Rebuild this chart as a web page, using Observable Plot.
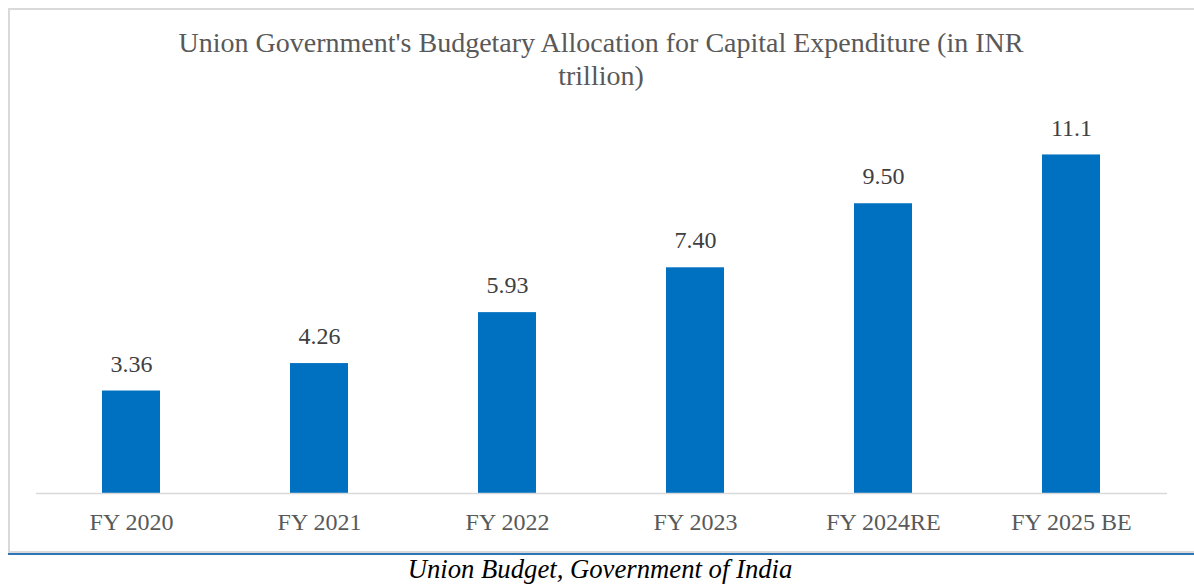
<!DOCTYPE html>
<html>
<head>
<meta charset="utf-8">
<script src="https://cdn.jsdelivr.net/npm/d3@7"></script>
<script src="https://cdn.jsdelivr.net/npm/@observablehq/plot@0.6"></script>
<style>
  html, body { margin: 0; padding: 0; background: #fff; }
  body { position: relative; width: 1194px; height: 584px; overflow: hidden; font-family: "Liberation Serif", serif; }
  #frame { position: absolute; left: 8px; top: 8px; width: 1186px; height: 545px; box-sizing: border-box;
           border-top: 2px solid #d9d9d9; border-left: 2px solid #d9d9d9; border-bottom: 2px solid #d9d9d9; }
  #blue { position: absolute; left: 8px; top: 553px; width: 1186px; height: 2px; background: #2e75b6; }
  #title { position: absolute; left: 8px; top: 26px; width: 1186px; text-align: center; font-size: 28px;
           line-height: 33px; color: #595959; }
  #chart { position: absolute; left: 8px; top: 100px; }
  #caption { position: absolute; left: 3px; top: 554px; width: 1194px; text-align: center; font-style: italic;
             font-size: 26.7px; line-height: 30px; color: #000; }
</style>
</head>
<body>
<div id="frame"></div>
<div id="blue"></div>
<div id="title">Union Government's Budgetary Allocation for Capital Expenditure (in INR<br>trillion)</div>
<div id="chart"></div>
<div id="caption">Union Budget, Government of India</div>
<script>
const categories = ["FY 2020", "FY 2021", "FY 2022", "FY 2023", "FY 2024RE", "FY 2025 BE"];
const values = [3.36, 4.26, 5.93, 7.40, 9.50, 11.1];
const valueLabels = ["3.36", "4.26", "5.93", "7.40", "9.50", "11.1"];

const data = categories.map((c, i) => ({category: c, value: values[i], label: valueLabels[i]}));

const chart = Plot.plot({
  width: 1186,
  height: 445,
  marginLeft: 28,
  marginRight: 27,
  marginTop: 27,
  marginBottom: 52,
  style: {fontFamily: "Liberation Serif, serif", fontSize: "24px", color: "#595959", background: "transparent"},
  x: {domain: categories, paddingInner: 0.69, paddingOuter: 0.345, label: null},
  y: {domain: [0, 12], axis: null},
  marks: [
    Plot.barY(data, {x: "category", y: "value", fill: "#0070c0"}),
    Plot.ruleY([0], {stroke: "#d9d9d9", strokeWidth: 1.5}),
    Plot.text(data, {x: "category", y: "value", text: "label", dy: -27, fill: "#404040", fontSize: 24}),
    Plot.axisX({tickSize: 0, tickPadding: 19, fontSize: 24, label: null})
  ]
});
document.getElementById("chart").appendChild(chart);
</script>
</body>
</html>
